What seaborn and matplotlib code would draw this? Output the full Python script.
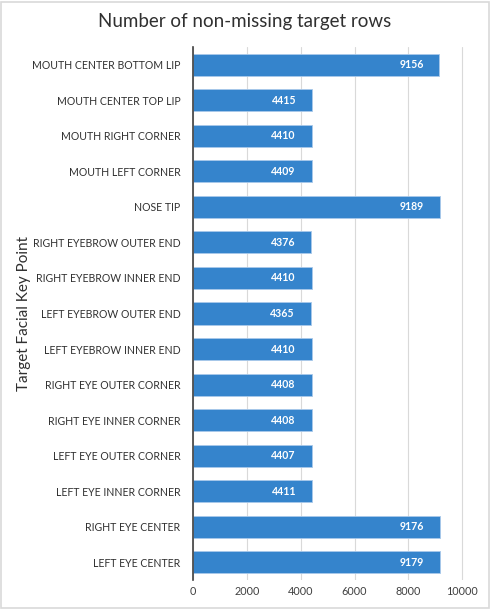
import matplotlib
matplotlib.use("Agg")
import matplotlib.pyplot as plt
import seaborn as sns
import pandas as pd

categories = ["MOUTH CENTER BOTTOM LIP", "MOUTH CENTER TOP LIP", "MOUTH RIGHT CORNER",
              "MOUTH LEFT CORNER", "NOSE TIP", "RIGHT EYEBROW OUTER END",
              "RIGHT EYEBROW INNER END", "LEFT EYEBROW OUTER END", "LEFT EYEBROW INNER END",
              "RIGHT EYE OUTER CORNER", "RIGHT EYE INNER CORNER", "LEFT EYE OUTER CORNER",
              "LEFT EYE INNER CORNER", "RIGHT EYE CENTER", "LEFT EYE CENTER"]
counts = [9156, 4415, 4410, 4409, 9189, 4376, 4410, 4365, 4410, 4408, 4408, 4407, 4411, 9176, 9179]
xticks = [0, 2000, 4000, 6000, 8000, 10000]

df = pd.DataFrame({"key": categories, "count": counts})

sns.set_theme(style="white")
plt.rcParams['font.family'] = ['Lato', 'DejaVu Sans']

fig = plt.figure(figsize=(4.9, 6.1), dpi=100)
ax = fig.add_axes([193/490, 1 - 580/610, (477-193)/490, (580-47)/610])

sns.barplot(data=df, x="count", y="key", color="#3584CC", saturation=1,
            width=0.62, ax=ax, edgecolor="#a9c9ea", linewidth=0.6, zorder=3)

ax.set_xlim(0, 10550)
ax.set_xticks(xticks)
ax.set_xticklabels([str(t) for t in xticks], fontsize=7.8, color="#404040")
ax.tick_params(axis="y", labelsize=7.6, labelcolor="#303030", length=0, pad=9)
ax.tick_params(axis="x", length=0, pad=4)
ax.grid(axis="x", color="#d9d9d9", linewidth=0.8, zorder=0)
for s in ["top", "right", "bottom"]:
    ax.spines[s].set_visible(False)
ax.spines["left"].set_color("#404040")
ax.spines["left"].set_linewidth(1.2)
ax.spines["left"].set_zorder(5)

ax.set_xlabel("")
ax.set_ylabel("Target Facial Key Point", fontsize=11, color="#303030", labelpad=2)
ax.yaxis.set_label_coords(-(193-31)/(477-193), 0.5)

for cont in ax.containers:
    ax.bar_label(cont, labels=[str(v) for v in counts], padding=-29,
                 color="white", fontsize=7.6, fontweight="bold")

fig.text(0.5, 1 - 22/610, "Number of non-missing target rows", ha="center", va="center",
         fontsize=13.5, color="#303030")

fig.patches.append(plt.Rectangle((0.003, 0.003), 0.994, 0.994, transform=fig.transFigure,
                                 fill=False, edgecolor="#d9d9d9", linewidth=1.2))

fig.savefig("out.png", dpi=100)
